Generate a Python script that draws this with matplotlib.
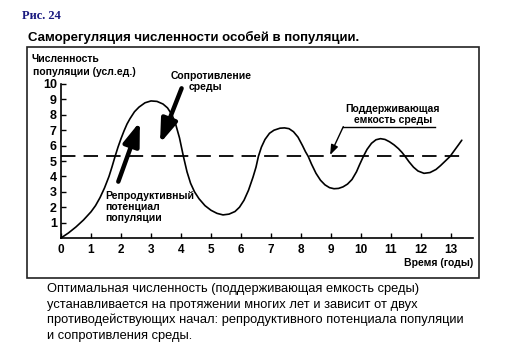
import matplotlib
matplotlib.use("Agg")
import matplotlib.pyplot as plt
from matplotlib.patches import Rectangle

# ---- data ----
time_years = [0, 0.25, 0.5, 0.75, 1.0, 1.15, 1.3, 1.45, 1.6, 1.7, 1.8, 1.9, 2.0,
              2.1, 2.2, 2.3, 2.45, 2.6, 2.8, 3.0, 3.2, 3.4, 3.55, 3.7, 3.82, 3.95,
              4.08, 4.2, 4.32, 4.45, 4.6, 4.8, 5.0, 5.2, 5.4, 5.6, 5.8, 5.95, 6.1,
              6.25, 6.4, 6.5, 6.58, 6.68, 6.8, 6.95, 7.1, 7.3, 7.45, 7.6, 7.75, 7.9,
              8.05, 8.15, 8.24, 8.35, 8.5, 8.65, 8.8, 8.95, 9.1, 9.25, 9.4, 9.55,
              9.7, 9.85, 9.95, 10.08, 10.2, 10.35, 10.5, 10.65, 10.8, 10.95, 11.1,
              11.25, 11.37, 11.47, 11.6, 11.75, 11.9, 12.1, 12.3, 12.5, 12.65, 12.8,
              12.97, 13.1, 13.25, 13.36]
population = [0, 0.33, 0.72, 1.17, 1.7, 2.1, 2.62, 3.25, 4.0, 4.62, 5.28, 5.9, 6.45,
              6.95, 7.4, 7.75, 8.2, 8.5, 8.78, 8.9, 8.87, 8.7, 8.45, 8.0, 7.4, 6.5,
              5.3, 4.3, 3.55, 3.0, 2.55, 2.1, 1.8, 1.6, 1.5, 1.55, 1.72, 2.0, 2.45,
              3.1, 3.95, 4.6, 5.3, 5.9, 6.4, 6.8, 7.0, 7.13, 7.15, 7.1, 6.9, 6.55,
              6.0, 5.6, 5.3, 4.8, 4.2, 3.75, 3.45, 3.27, 3.2, 3.22, 3.32, 3.5,
              3.8, 4.3, 4.75, 5.3, 5.75, 6.15, 6.38, 6.45, 6.4, 6.25, 6.05,
              5.8, 5.55, 5.3, 4.95, 4.6, 4.35, 4.2, 4.25, 4.45, 4.7, 4.98,
              5.3, 5.65, 6.05, 6.35]
carrying_capacity = 5.3
x_ticks = list(range(0, 14))
y_ticks = list(range(1, 11))

W, H = 505, 346
fig = plt.figure(figsize=(W / 100, H / 100), dpi=100)
FONT = ['Liberation Sans', 'DejaVu Sans']

def fx(px):
    return px / W

def fy(py):
    return 1 - py / H

# axes placement (pixels): x=0 at 61, y=0 at 238, y=10 at 84, axis end at 473
ax_left, ax_right, ax_bottom, ax_top = 61, 473, 238, 84
ax = fig.add_axes([fx(ax_left), fy(ax_bottom), (ax_right - ax_left) / W, (ax_bottom - ax_top) / H])
x_per_unit = 30.0
ax.set_xlim(0, (ax_right - ax_left) / x_per_unit)
ax.set_ylim(0, 10)
ax.patch.set_alpha(0)

for s in ['top', 'right']:
    ax.spines[s].set_visible(False)
for s in ['left', 'bottom']:
    ax.spines[s].set_linewidth(1.2)
    ax.spines[s].set_color('black')

ax.set_xticks(x_ticks)
ax.set_yticks(y_ticks)
ax.set_xticklabels([str(v) for v in x_ticks], fontsize=8.5, fontweight='bold', family=FONT)
ax.set_yticklabels([str(v) for v in y_ticks], fontsize=9, fontweight='bold', family=FONT)
ax.tick_params(axis='both', direction='in', length=3.5, width=1.0, pad=3)
ax.tick_params(axis='x', pad=4)

ax.plot(time_years, population, color='black', lw=1.2, clip_on=False,
        solid_joinstyle='round', solid_capstyle='round')
ax.plot([0, 13.4], [carrying_capacity, carrying_capacity], color='black', lw=1.3,
        linestyle=(0, (8, 4.5)), clip_on=False)

# thick arrows
ax.annotate('', xy=(2.63, 7.55), xytext=(1.91, 3.66),
            arrowprops=dict(arrowstyle='-|>,head_length=1.0,head_width=0.35',
                            lw=3.2, color='black', mutation_scale=14, shrinkA=0, shrinkB=0),
            annotation_clip=False)
ax.annotate('', xy=(3.30, 6.15), xytext=(4.02, 9.72),
            arrowprops=dict(arrowstyle='-|>,head_length=1.0,head_width=0.35',
                            lw=3.2, color='black', mutation_scale=14, shrinkA=0, shrinkB=0),
            annotation_clip=False)

# thin pointer to carrying capacity
ax.plot([12.47, 9.41], [7.23, 7.23], color='black', lw=1.0, clip_on=False)
ax.annotate('', xy=(8.97, 5.39), xytext=(9.41, 7.23),
            arrowprops=dict(arrowstyle='-|>,head_length=0.6,head_width=0.22',
                            lw=1.0, color='black', mutation_scale=10, shrinkA=0, shrinkB=0),
            annotation_clip=False)

# texts
bold = dict(fontweight='bold', family=FONT)
fig.text(fx(22), fy(16), 'Рис. 24', ha='left', va='center', fontsize=9, fontweight='bold',
         family=['Liberation Serif', 'DejaVu Serif'], color='#1a1a80')
fig.text(fx(28), fy(37), 'Саморегуляция численности особей в популяции.', ha='left', va='center',
         fontsize=9.5, **bold)
fig.text(fx(31), fy(59), 'Численность', ha='left', va='center', fontsize=7.5, **bold)
fig.text(fx(33), fy(72), 'популяции (усл.ед.)', ha='left', va='center', fontsize=7.5, **bold)
fig.text(fx(211), fy(76), 'Сопротивление', ha='center', va='center', fontsize=7.5, **bold)
fig.text(fx(205), fy(87), 'среды', ha='center', va='center', fontsize=7.5, **bold)
fig.text(fx(105), fy(196), 'Репродуктивный', ha='left', va='center', fontsize=7.5, **bold)
fig.text(fx(105), fy(207), 'потенциал', ha='left', va='center', fontsize=7.5, **bold)
fig.text(fx(105), fy(218), 'популяции', ha='left', va='center', fontsize=7.5, **bold)
fig.text(fx(393), fy(109), 'Поддерживающая', ha='center', va='center', fontsize=7.5, **bold)
fig.text(fx(393), fy(120), 'емкость среды', ha='center', va='center', fontsize=7.5, **bold)
fig.text(fx(473), fy(263), 'Время (годы)', ha='right', va='center', fontsize=7.5, **bold)

caption = ['Оптимальная численность (поддерживающая емкость среды)',
           'устанавливается на протяжении многих лет и зависит от двух',
           'противодействующих начал: репродуктивного потенциала популяции',
           'и сопротивления среды.']
for i, line in enumerate(caption):
    fig.text(fx(47), fy(289 + i * 15.6), line, ha='left', va='center', fontsize=9.25, family=FONT)

# frame
fig.patches.append(Rectangle((fx(27), fy(278)), fx(479) - fx(27), fy(47) - fy(278),
                             transform=fig.transFigure, fill=False, lw=1.2, edgecolor='#222222'))

fig.savefig('out.png', dpi=100)
